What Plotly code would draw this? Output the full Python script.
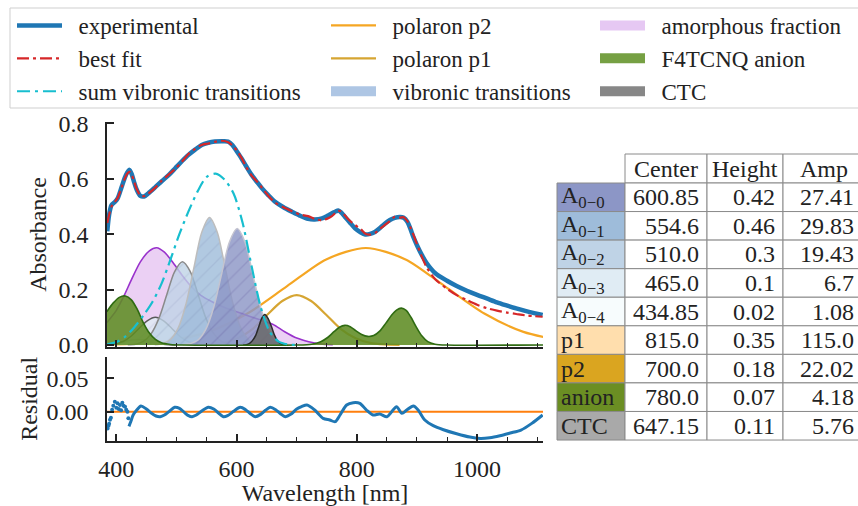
import plotly.graph_objects as go

wl_exp = [385, 388, 392, 397, 402, 409, 414, 418, 422, 426, 430, 434, 440, 446, 453, 464, 475, 487,
          498, 509, 520, 531, 542, 553, 564, 575, 586, 593, 600, 608, 616, 625, 634, 642, 653, 664,
          678, 692, 705, 719, 730, 742, 751, 758, 764, 769, 774, 780, 788, 797, 806, 814, 822, 830,
          838, 846, 855, 863, 872, 878, 884, 889, 894, 900, 908, 916, 930, 950, 966, 983, 1000, 1016,
          1033, 1050, 1065, 1080, 1095, 1109]
abs_exp = [0.41, 0.47, 0.505, 0.515, 0.528, 0.571, 0.603, 0.622, 0.632, 0.614, 0.585, 0.56, 0.538,
           0.536, 0.547, 0.568, 0.59, 0.613, 0.638, 0.663, 0.686, 0.705, 0.722, 0.73, 0.734, 0.735,
           0.734, 0.722, 0.70, 0.674, 0.645, 0.614, 0.588, 0.566, 0.54, 0.517, 0.497, 0.481, 0.467,
           0.455, 0.453, 0.457, 0.466, 0.475, 0.481, 0.485, 0.478, 0.463, 0.443, 0.421, 0.407, 0.399,
           0.401, 0.408, 0.421, 0.437, 0.451, 0.459, 0.462, 0.459, 0.445, 0.42, 0.39, 0.36, 0.325,
           0.296, 0.26, 0.232, 0.213, 0.196, 0.181, 0.168, 0.154, 0.142, 0.132, 0.123, 0.115, 0.108]
abs_fit = [0.44, 0.47, 0.50, 0.515, 0.53, 0.57, 0.60, 0.618, 0.625, 0.612, 0.587, 0.562, 0.54,
           0.537, 0.546, 0.566, 0.592, 0.615, 0.636, 0.661, 0.689, 0.708, 0.722, 0.727, 0.733, 0.737,
           0.732, 0.72, 0.703, 0.676, 0.642, 0.611, 0.59, 0.568, 0.538, 0.514, 0.497, 0.483, 0.471,
           0.465, 0.455, 0.45, 0.456, 0.464, 0.476, 0.484, 0.482, 0.468, 0.449, 0.433, 0.419, 0.402,
           0.398, 0.404, 0.418, 0.432, 0.447, 0.463, 0.46, 0.461, 0.447, 0.425, 0.398, 0.364, 0.319,
           0.281, 0.238, 0.203, 0.18, 0.162, 0.145, 0.133, 0.124, 0.117, 0.112, 0.107, 0.104, 0.102]

wl_sum = [385, 400, 415, 430, 445, 460, 475, 490, 505, 520, 535, 550, 565, 580, 595, 610, 625, 640,
          655, 670, 685, 700]
abs_sum = [0.0025, 0.0106, 0.0307, 0.0644, 0.1063, 0.1551, 0.2207, 0.308, 0.4008, 0.482, 0.5535,
           0.6061, 0.6183, 0.5966, 0.5466, 0.4414, 0.2843, 0.1375, 0.0485, 0.0123, 0.0023, 0.0003]

wl_a00 = [510, 523, 536, 549, 562, 575, 588, 601, 614, 627, 640, 653, 666, 679, 692]
abs_a00 = [0.001, 0.005, 0.018, 0.057, 0.136, 0.255, 0.371, 0.42, 0.371, 0.255, 0.136, 0.057, 0.018, 0.005, 0.001]
wl_a01 = [464, 477, 490, 503, 516, 529, 542, 555, 568, 581, 594, 607, 620, 633, 646]
abs_a01 = [0.001, 0.005, 0.020, 0.062, 0.149, 0.279, 0.406, 0.46, 0.406, 0.279, 0.149, 0.062, 0.020, 0.005, 0.001]
wl_a02 = [419, 432, 445, 458, 471, 484, 497, 510, 523, 536, 549, 562, 575, 588, 601]
abs_a02 = [0.001, 0.003, 0.013, 0.041, 0.097, 0.182, 0.265, 0.30, 0.265, 0.182, 0.097, 0.041, 0.013, 0.003, 0.001]
wl_a03 = [372, 385, 398, 412, 425, 438, 452, 465, 478, 492, 505, 518, 532, 545, 558]
abs_a03 = [0.0002, 0.0011, 0.0044, 0.0135, 0.0325, 0.0607, 0.0883, 0.1, 0.0883, 0.0607, 0.0325, 0.0135, 0.0044, 0.0011, 0.0002]
wl_a04 = [381, 392, 403, 413, 424, 435, 446, 456, 467, 478, 489, 499]
abs_a04 = [0.0009, 0.0027, 0.0065, 0.0121, 0.0177, 0.02, 0.0177, 0.0121, 0.0065, 0.0027, 0.0009, 0.0002]

wl_ctc = [611, 616, 621, 626, 632, 637, 642, 647, 652, 658, 663, 668, 673, 679, 684]
abs_ctc = [0.0002, 0.0012, 0.0048, 0.0149, 0.0357, 0.0667, 0.0971, 0.11, 0.0971, 0.0667, 0.0357, 0.0149, 0.0048, 0.0012, 0.0002]

wl_pol_small = [529, 554, 578, 602, 627, 651, 676, 700, 724, 749, 773, 798, 822, 846, 871]
abs_pol_small = [0.0004, 0.002, 0.0079, 0.0244, 0.0584, 0.1092, 0.1589, 0.18, 0.1589, 0.1092, 0.0584, 0.0244, 0.0079, 0.002, 0.0004]
wl_pol_big = [356, 422, 487, 553, 618, 684, 749, 815, 881, 946, 1012, 1077, 1143]
abs_pol_big = [0.0008, 0.0039, 0.0154, 0.0474, 0.1136, 0.2123, 0.3089, 0.35, 0.3089, 0.2123, 0.1136, 0.0474, 0.0154]

wl_amor = [384, 400, 412, 425, 440, 455, 467, 480, 495, 510, 525, 540, 560, 580, 600, 620, 640, 660,
           680, 700, 720, 740, 760]
abs_amor = [0.08, 0.125, 0.174, 0.235, 0.30, 0.34, 0.351, 0.335, 0.295, 0.25, 0.21, 0.18, 0.155, 0.135,
            0.12, 0.105, 0.09, 0.075, 0.048, 0.025, 0.012, 0.004, 0.001]

wl_anion = [384, 395, 405, 415, 425, 435, 445, 455, 465, 475, 490, 510, 700, 725, 740, 752, 762, 771,
            780, 789, 798, 808, 818, 828, 838, 848, 858, 866, 874, 882, 890, 898, 908, 918, 930, 950, 1110]
abs_anion = [0.12, 0.152, 0.172, 0.177, 0.163, 0.128, 0.08, 0.043, 0.02, 0.008, 0.002, 0.0, 0.0, 0.003,
             0.012, 0.028, 0.048, 0.064, 0.071, 0.066, 0.052, 0.038, 0.031, 0.034, 0.05, 0.078, 0.108,
             0.126, 0.133, 0.125, 0.1, 0.068, 0.033, 0.012, 0.003, 0.0, 0.0]

wl_res = [421, 424, 428, 434, 441, 450, 458, 466, 473, 480, 488, 497, 505, 513, 520, 526, 533, 542,
          553, 562, 570, 578, 585, 595, 606, 615, 623, 631, 640, 648, 656, 665, 673, 681, 690, 700,
          708, 717, 730, 744, 755, 764, 772, 783, 794, 805, 816, 827, 838, 850, 858, 866, 875, 883,
          894, 902, 913, 927, 944, 966, 988, 1005, 1021, 1038, 1055, 1073, 1091, 1109]
res = [-0.022, -0.015, -0.005, 0.0025, 0.0085, 0.004, -0.002, -0.0065, -0.0075, -0.005, 0.0005,
       0.0065, 0.005, -0.001, -0.006, -0.0075, -0.005, 0.001, 0.0065, 0.004, -0.002, -0.0075, -0.006,
       0.0005, 0.0065, 0.003, -0.003, -0.0075, -0.004, 0.002, 0.0065, 0.003, -0.003, -0.0075, -0.004,
       0.004, 0.0075, 0.01, 0.0025, -0.01, -0.0125, -0.015, -0.005, 0.01, 0.0135, 0.0125, 0.0025,
       -0.005, -0.0035, -0.0075, 0.0, 0.0075, -0.0025, 0.0025, 0.0085, 0.0025, -0.0125, -0.021,
       -0.027, -0.033, -0.038, -0.04, -0.039, -0.036, -0.032, -0.0275, -0.0175, -0.005]
wl_res_noise = [385.5, 387, 388, 389.5, 391, 393, 395, 397.5, 400, 402, 404, 406, 408, 410, 412, 414.5,
                416.5, 418.5, 420]
res_noise = [-0.025, -0.021, -0.018, -0.012, -0.009, 0.003, 0.009, 0.015, 0.006, 0.0125, 0.004, 0.01,
             0.002, 0.0135, 0.009, 0.0075, 0.003, 0.0, -0.01]
wl_zero = [384.5, 1109.6]
res_zero = [0.0, 0.0]

tick_major = [400, 600, 800, 1000]
tick_minor = [450, 500, 550, 650, 700, 750, 850, 900, 950, 1050, 1100]
abs_ticks = [0.0, 0.2, 0.4, 0.6, 0.8]
res_ticks = [0.0, 0.05]

tbl_header = ["Center", "Height", "Amp"]
tbl_labels = ["A<sub>0\u22120</sub>", "A<sub>0\u22121</sub>", "A<sub>0\u22122</sub>",
              "A<sub>0\u22123</sub>", "A<sub>0\u22124</sub>", "p1", "p2", "anion", "CTC"]
tbl_center = [600.85, 554.6, 510.0, 465.0, 434.85, 815.0, 700.0, 780.0, 647.15]
tbl_height = [0.42, 0.46, 0.3, 0.1, 0.02, 0.35, 0.18, 0.07, 0.11]
tbl_amp = [27.41, 29.83, 19.43, 6.7, 1.08, 115.0, 22.02, 4.18, 5.76]
tbl_colors = ["#8c96c6", "#9ebcda", "#bfd3e6", "#e0ecf4", "#f7fcfd", "#ffdead", "#daa520",
              "#6b8e23", "#a9a9a9"]

# ---------------- layout geometry ----------------
W, H = 858, 506
ML, MB = 107, 65
PW, PH = W - ML, H - MB
FONT = "Liberation Serif, Times New Roman, DejaVu Serif, serif"
INK = "#222222"
FS = 24


def fx(px):
    return (px - ML) / PW


def fy(py):
    return (H - MB - py) / PH


fig = go.Figure()


def line_tr(x, y, color, width, name=None, dash=None, legend=None, rank=None, axis=1,
            fill=None, fillcolor=None, pattern=None, shape="spline"):
    kw = dict(x=x, y=y, mode="lines",
              line=dict(color=color, width=width, shape=shape, smoothing=0.8),
              xaxis="x" if axis == 1 else "x2", yaxis="y" if axis == 1 else "y2",
              hoverinfo="skip")
    if dash:
        kw["line"]["dash"] = dash
    if name is not None:
        kw["name"] = name
        kw["showlegend"] = True
        kw["legend"] = legend
        kw["legendgroup"] = name
        if rank is not None:
            kw["legendrank"] = rank
    else:
        kw["showlegend"] = False
    if fill:
        kw["fill"] = fill
        kw["fillcolor"] = fillcolor
    if pattern:
        kw["fillpattern"] = pattern
    fig.add_trace(go.Scatter(**kw))


NB = "\u00a0\u00a0"
# polaron lines (under the fills)
line_tr(wl_pol_big, abs_pol_big, "#f5a623", 2.2, name=NB + "polaron p2", legend="legend2", rank=1)
line_tr(wl_pol_small, abs_pol_small, "#d6a532", 2.2, name=NB + "polaron p1", legend="legend2", rank=2)
# amorphous fraction
line_tr(wl_amor, abs_amor, "#9932cc", 1.6, fill="tozeroy", fillcolor="rgba(210,150,230,0.45)")
# vibronic transitions
vib = [
    (wl_a04, abs_a04, "#404040", "rgba(247,252,253,0.8)", "rgba(120,120,160,0.25)"),
    (wl_a03, abs_a03, "#5a5a5a", "rgba(224,236,244,0.8)", "rgba(120,120,160,0.25)"),
    (wl_a02, abs_a02, "#8a8a8a", "rgba(191,211,230,0.8)", "rgba(120,130,170,0.3)"),
    (wl_a01, abs_a01, "#bdbdbd", "rgba(158,188,218,0.8)", "rgba(110,120,170,0.35)"),
    (wl_a00, abs_a00, "#c4c4d0", "rgba(140,150,198,0.82)", "rgba(90,80,150,0.45)"),
]
for x, y, lc, fc, hc in vib:
    line_tr(x, y, lc, 1.5, fill="tozeroy", fillcolor=fc,
            pattern=dict(shape="/", fgcolor=hc, bgcolor=fc, size=11, solidity=0.12))
# CTC
line_tr(wl_ctc, abs_ctc, "#2a2a2a", 1.5, fill="tozeroy", fillcolor="rgba(105,105,105,0.85)")
# F4TCNQ anion
line_tr(wl_anion, abs_anion, "#2f6b12", 1.6, fill="tozeroy", fillcolor="rgba(95,140,35,0.88)")
# sum, experimental, fit
line_tr(wl_sum, abs_sum, "#17becf", 2.2, name=NB + "sum vibronic transitions", legend="legend",
        rank=3, dash="13px,5px,3px,5px")
line_tr(wl_exp, abs_exp, "#1f77b4", 4.5, name=NB + "experimental", legend="legend", rank=1)
line_tr(wl_exp, abs_fit, "#d62728", 2.2, name=NB + "best fit", legend="legend", rank=2,
        dash="12px,4px,3px,4px")

# residual panel
line_tr(wl_zero, res_zero, "#ff7f0e", 2.0, axis=2, shape="linear")
line_tr(wl_res, res, "#1f77b4", 3.0, axis=2)
fig.add_trace(go.Scatter(x=wl_res_noise, y=res_noise, mode="markers", xaxis="x2", yaxis="y2",
                         marker=dict(color="#1f77b4", size=4), showlegend=False, hoverinfo="skip"))

# legend-only patch entries
for nm, col, lg, rk in [("vibronic transitions", "#aec6e4", "legend2", 3),
                        ("amorphous fraction", "#e6c8f3", "legend3", 1),
                        ("F4TCNQ anion", "#76a043", "legend3", 2),
                        ("CTC", "#878787", "legend3", 3)]:
    fig.add_trace(go.Scatter(x=[None], y=[None], mode="lines", name=NB + nm,
                             line=dict(color=col, width=16), legend=lg, legendrank=rk,
                             xaxis="x", yaxis="y", hoverinfo="skip"))

# ---------------- axes ----------------
xr = [384.5, 1109.6]
xcommon = dict(range=xr, showline=True, linecolor=INK, linewidth=1.6, ticks="inside",
               tickvals=tick_major, ticklen=7, tickwidth=1.6, tickcolor=INK, showgrid=False,
               zeroline=False,
               minor=dict(tickvals=tick_minor, ticks="inside", ticklen=4, tickwidth=1.1,
                          tickcolor=INK, showgrid=False),
               tickfont=dict(family=FONT, size=FS, color=INK))
ycommon = dict(showline=True, linecolor=INK, linewidth=1.6, ticks="inside", ticklen=7,
               tickwidth=1.6, tickcolor=INK, showgrid=False, zeroline=False,
               tickfont=dict(family=FONT, size=FS, color=INK), ticklabelstandoff=12)

fig.update_layout(
    xaxis=dict(domain=[fx(107), fx(543)], anchor="y", showticklabels=False, **xcommon),
    yaxis=dict(domain=[fy(347), fy(122)], anchor="x", range=[-0.0072, 0.8047],
               tickvals=abs_ticks, tickformat=".1f",
               title=dict(text="Absorbance", font=dict(family=FONT, size=FS, color=INK), standoff=5),
               **ycommon),
    xaxis2=dict(domain=[fx(107), fx(543)], anchor="y2", showticklabels=True, ticklabelstandoff=5,
                title=dict(text="Wavelength [nm]", font=dict(family=FONT, size=FS, color=INK),
                           standoff=4),
                **xcommon),
    yaxis2=dict(domain=[fy(441), fy(356.7)], anchor="x2", range=[-0.0439, 0.0823],
                tickvals=res_ticks, tickformat=".2f",
                title=dict(text="Residual", font=dict(family=FONT, size=FS, color=INK), standoff=2),
                **ycommon),
)

leg = dict(font=dict(family=FONT, size=23, color=INK), bgcolor="rgba(0,0,0,0)", borderwidth=0,
           itemwidth=45, tracegroupgap=0, xanchor="left", yanchor="top", orientation="v",
           traceorder="normal")
fig.update_layout(
    legend=dict(x=fx(12), y=fy(4), **leg),
    legend2=dict(x=fx(326), y=fy(4), **leg),
    legend3=dict(x=fx(595), y=fy(4), **leg),
)

shapes = [dict(type="rect", xref="paper", yref="paper", x0=fx(10), x1=fx(875), y0=fy(108), y1=fy(8),
               line=dict(color="#cfcfcf", width=1), fillcolor="rgba(0,0,0,0)", layer="below")]
annotations = []

# ---------------- table ----------------
col_w = [68, 82, 76, 82]
col_x = [557]
for w_ in col_w:
    col_x.append(col_x[-1] + w_)
top, hh, rh = 154, 29, 28.56
BORDER = "#8a8a8a"

for j, txt in enumerate(tbl_header):
    x0, x1 = col_x[j + 1], col_x[j + 2]
    shapes.append(dict(type="rect", xref="paper", yref="paper", x0=fx(x0), x1=fx(x1),
                       y0=fy(top + hh), y1=fy(top), line=dict(color=BORDER, width=1),
                       fillcolor="white"))
    annotations.append(dict(xref="paper", yref="paper", x=fx((x0 + x1) / 2), y=fy(top + hh / 2),
                            text=txt, showarrow=False, xanchor="center", yanchor="middle",
                            font=dict(family=FONT, size=FS, color=INK)))

cols = [tbl_center, tbl_height, tbl_amp]
for i, lab in enumerate(tbl_labels):
    y0 = top + hh + i * rh
    y1 = y0 + rh
    shapes.append(dict(type="rect", xref="paper", yref="paper", x0=fx(col_x[0]), x1=fx(col_x[1]),
                       y0=fy(y1), y1=fy(y0), line=dict(color=BORDER, width=1),
                       fillcolor=tbl_colors[i]))
    annotations.append(dict(xref="paper", yref="paper", x=fx(col_x[0] + 2), y=fy((y0 + y1) / 2),
                            text=lab, showarrow=False, xanchor="left", yanchor="middle",
                            font=dict(family=FONT, size=FS, color=INK)))
    for j, c in enumerate(cols):
        x0, x1 = col_x[j + 1], col_x[j + 2]
        shapes.append(dict(type="rect", xref="paper", yref="paper", x0=fx(x0), x1=fx(x1),
                           y0=fy(y1), y1=fy(y0), line=dict(color=BORDER, width=1),
                           fillcolor="white"))
        annotations.append(dict(xref="paper", yref="paper", x=fx(x1 - (6 if j < 2 else 9)),
                                y=fy((y0 + y1) / 2), text=str(c[i]), showarrow=False,
                                xanchor="right", yanchor="middle",
                                font=dict(family=FONT, size=FS, color=INK)))

fig.update_layout(
    width=W, height=H, margin=dict(l=ML, r=0, t=0, b=MB, autoexpand=False),
    paper_bgcolor="white", plot_bgcolor="white",
    font=dict(family=FONT, size=FS, color=INK),
    shapes=shapes, annotations=annotations, showlegend=True,
)

fig.write_html("out.html")
